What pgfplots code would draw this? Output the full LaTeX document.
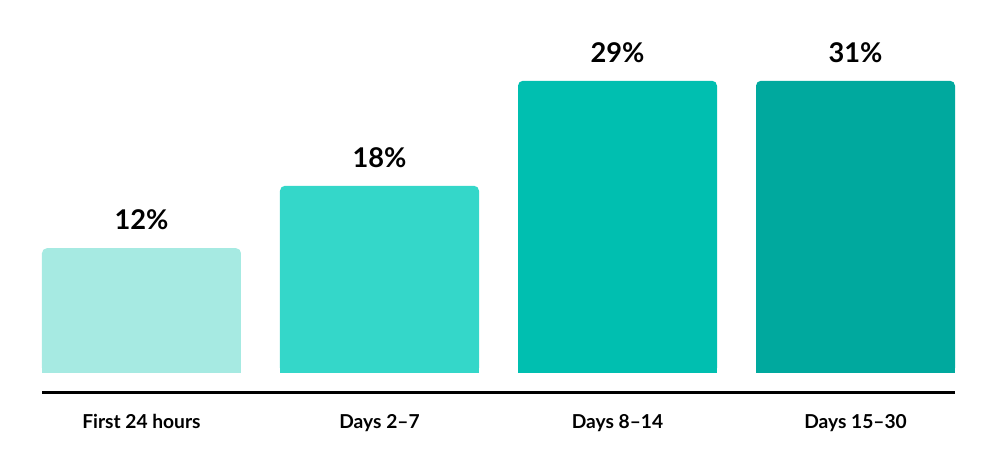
\documentclass[border=0pt]{standalone}
\usepackage{pgfplots}
\pgfplotsset{compat=1.18}
\usepackage{fontspec}
\setmainfont{Lato}
\definecolor{barA}{HTML}{A6EAE2}
\definecolor{barB}{HTML}{34D7C9}
\definecolor{barC}{HTML}{00BFB0}
\definecolor{barD}{HTML}{00A99E}
\begin{document}
\begin{tikzpicture}
\useasboundingbox (-21pt,-34.5pt) rectangle (479pt,196pt);
\begin{axis}[
    scale only axis,
    width=456.5pt, height=191.5pt,
    ybar, bar width=99.5pt, bar shift=0pt,
    xmin=-0.418, xmax=3.418,
    ymin=-1.83, ymax=35,
    axis x line=bottom, axis y line=none,
    axis line style={-, line width=1.5pt, black},
    xtick={0,1,2,3},
    xticklabels={First 24 hours, Days 2--7, Days 8--14, Days 15--30},
    major tick length=0pt,
    xticklabel style={font=\fontsize{9.6}{11}\selectfont\bfseries, yshift=-7.5pt},
    ytick=\empty,
    clip=false,
    every node near coord/.style={font=\fontsize{13.6}{15}\selectfont\bfseries, anchor=south, yshift=5.5pt, black},
]
% bars, rounded at the top
\addplot[fill=barA, draw=none, rounded corners=2.5pt, nodes near coords, point meta=explicit symbolic] coordinates {(0,12) [12\%]};
\addplot[fill=barB, draw=none, rounded corners=2.5pt, nodes near coords, point meta=explicit symbolic] coordinates {(1,18) [18\%]};
\addplot[fill=barC, draw=none, rounded corners=2.5pt, nodes near coords, point meta=explicit symbolic] coordinates {(2,28.1) [29\%]};
\addplot[fill=barD, draw=none, rounded corners=2.5pt, nodes near coords, point meta=explicit symbolic] coordinates {(3,28.1) [31\%]};
% square off the bottom corners
\addplot[fill=barA, draw=none] coordinates {(0,1)};
\addplot[fill=barB, draw=none] coordinates {(1,1)};
\addplot[fill=barC, draw=none] coordinates {(2,1)};
\addplot[fill=barD, draw=none] coordinates {(3,1)};
\end{axis}
\end{tikzpicture}
\end{document}
